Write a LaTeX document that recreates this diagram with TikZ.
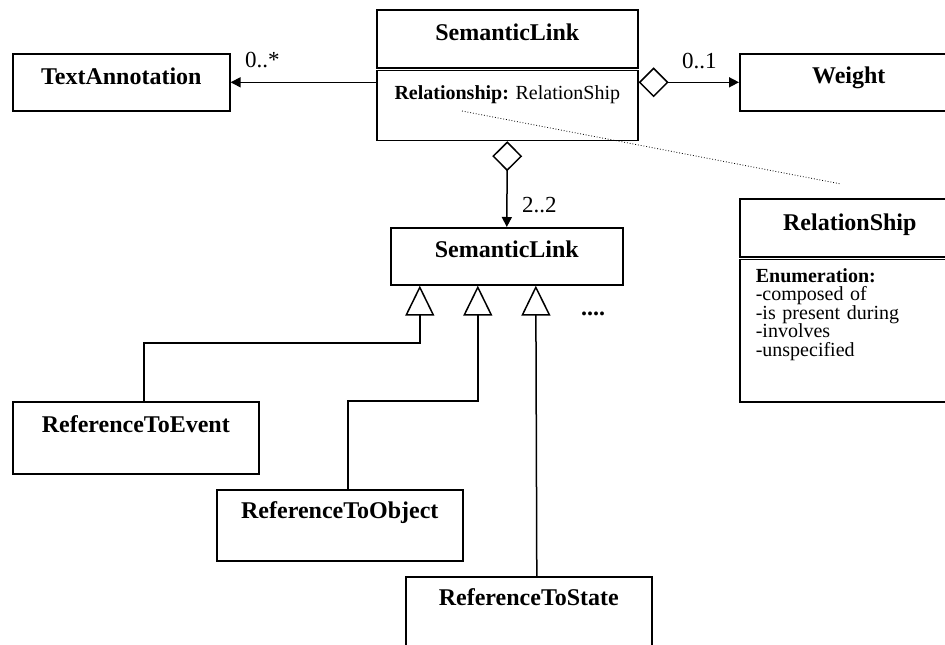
\documentclass[tikz,border=0pt]{standalone}
\usepackage{fontspec}
\setmainfont{Liberation Serif}
\usetikzlibrary{arrows.meta}
\begin{document}
\begin{tikzpicture}[x=1pt,y=-1pt,
  box/.style={draw, line width=1.6pt, inner xsep=0pt, inner ysep=0pt, anchor=north west,
    font=\fontsize{24}{28}\selectfont\bfseries, align=center},
  attr/.style={font=\fontsize{20}{24}\selectfont},
  lbl/.style={anchor=base west, inner sep=0pt, font=\fontsize{23}{27}\selectfont},
  assoc/.style={line width=1.5pt, -{Triangle[length=10pt,width=10pt]}},
  agg/.style={line width=1.5pt, {Diamond[open,length=30pt,width=30pt]}-{Triangle[length=10pt,width=10pt]}},
  gen/.style={line width=1.5pt, -{Triangle[open,length=30pt,width=29pt]}},
  note/.style={dotted, line width=0.8pt}
]
\fill[white] (0,0) rectangle (945,645);
\useasboundingbox (0,0) rectangle (945,645);

% classes
\node[box, minimum width=217pt, text height=31pt, text depth=26pt] (ta) at (12,53) {TextAnnotation};
\node[box, minimum width=261pt, text height=31pt, text depth=27pt] (sl) at (376,9) {SemanticLink};
\node[box, attr, anchor=north, minimum width=261pt, text height=29pt, text depth=41pt] (slb)
  at ([yshift=-1pt]sl.south) {\textbf{Relationship:} RelationShip};
\node[box, minimum width=218pt, text height=30pt, text depth=27pt] (w) at (739,53) {Weight};
\node[box, minimum width=220pt, text height=32pt, text depth=26pt] (rs) at (739,198) {RelationShip};
\node[box, anchor=north west, text width=188pt, inner xsep=16pt, align=left,
  font=\fontsize{20}{18.4}\selectfont, text height=23pt, text depth=119.5pt] (rsb)
  at ([yshift=-1pt]rs.south west)
  {\textbf{Enumeration:}\\-composed of\\-is present during\\-involves\\-unspecified};
\node[box, minimum width=232pt, text height=30pt, text depth=27pt] (sl2) at (390,227) {SemanticLink};
\node[box, minimum width=246pt, text height=31pt, text depth=41pt] (rte) at (12,401) {ReferenceToEvent};
\node[box, minimum width=246pt, text height=29pt, text depth=42pt] (rto) at (216,489) {ReferenceToObject};
\node[box, minimum width=246pt, text height=29pt, text depth=60pt] (rts) at (405,576) {ReferenceToState};

% multiplicities
\node[lbl] (m1) at (245,67) {0..*};
\node[lbl] (m2) at (682,68) {0..1};
\node[lbl] (m3) at (522,212) {2..2};
\node[anchor=base west, inner sep=0pt, font=\fontsize{24}{28}\selectfont\bfseries] (dots) at (581,315) {....};

% connectors
\draw[assoc] (slb.west |- ta.east) -- (ta.east);
\draw[agg] (slb.east |- w.west) -- (w.west);
\draw[agg] (slb.south) -- (sl2.north);
\coordinate (d1) at (462,111);
\coordinate (d2) at (841,184);
\draw[note] (d1) -- (d2);

\draw[gen] ([xshift=8pt]rte.north) -- ++(0,-58) -| ([xshift=-87pt]sl2.south);
\draw[gen] ([xshift=8pt]rto.north) -- ++(0,-88) -| ([xshift=-29pt]sl2.south);
\draw[gen] ([xshift=8pt]rts.north) -- ([xshift=29pt]sl2.south);
\end{tikzpicture}
\end{document}
